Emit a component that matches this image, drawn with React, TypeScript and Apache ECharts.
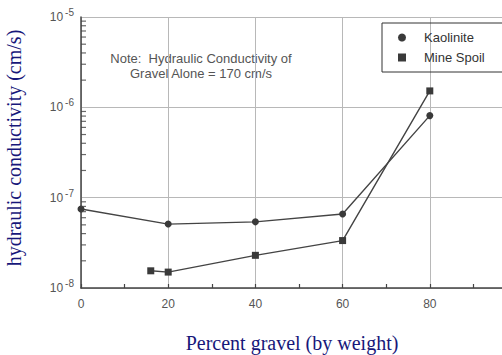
import React, { useEffect, useRef } from "react";
import * as echarts from "echarts";

// Percent gravel (by weight) for each specimen
const kaolinitePct = [0, 20, 40, 60, 80];
const mineSpoilPct = [16, 20, 40, 60, 80];

// Hydraulic conductivity, cm/s
const kaoliniteK = [7.5e-8, 5.1e-8, 5.4e-8, 6.6e-8, 8.1e-7];
const mineSpoilK = [1.55e-8, 1.5e-8, 2.3e-8, 3.35e-8, 1.52e-6];

// Axis settings
const xTickStep = 20;
const yMin = 1e-8;
const yMax = 1e-5;
const minorDecades = [-8, -7, -6];
const minorMultipliers = [2, 3, 4, 5, 6, 7, 8, 9];

const seriesNames = ["Kaolinite", "Mine Spoil"];
const noteLines = ["Note:  Hydraulic Conductivity of", "Gravel Alone = 170 cm/s"];
const xTitle = "Percent gravel (by weight)";
const yTitle = "hydraulic conductivity (cm/s)";

const ink = "#444444";
const grid = "#b8b8b8";
const navy = "#17177a";
const sans = "'Liberation Sans', Arial, sans-serif";
const serif = "'Liberation Serif', 'Times New Roman', serif";

export default function App() {
  const ref = useRef<HTMLDivElement>(null);

  useEffect(() => {
    if (!ref.current) return;
    const chart = echarts.init(ref.current, undefined, { renderer: "svg" });

    // 2..9 x 10^n positions for the small ticks along the left axis
    const minorTickPoints: number[][] = [];
    minorDecades.forEach((e) =>
      minorMultipliers.forEach((m) => minorTickPoints.push([0, m * Math.pow(10, e)]))
    );

    chart.setOption({
      animation: false,
      backgroundColor: "#ffffff",
      grid: { left: 81, top: 17, width: 436, height: 271, outerBoundsMode: "none", containLabel: false },
      xAxis: {
        type: "value",
        min: 0,
        max: 100,
        interval: xTickStep,
        axisLine: { show: true, lineStyle: { color: ink, width: 1.5 } },
        axisTick: { show: true, inside: true, length: 4, lineStyle: { color: ink, width: 1.2 } },
        minorTick: { show: true, splitNumber: 2, length: 4, lineStyle: { color: ink, width: 1.2 } },
        splitLine: { show: true, lineStyle: { color: grid, width: 1 } },
        axisLabel: {
          color: "#555",
          fontFamily: sans,
          fontSize: 12,
          margin: 10,
          showMaxLabel: false,
        },
      },
      yAxis: {
        type: "log",
        logBase: 10,
        min: yMin,
        max: yMax,
        axisLine: { show: true, lineStyle: { color: ink, width: 1.5 } },
        axisTick: { show: false },
        splitLine: { show: true, lineStyle: { color: grid, width: 1 } },
        axisLabel: {
          margin: 7,
          formatter: (v: number) => {
            const e = Math.round(Math.log10(v));
            return `{b|10}{s|${e}}`;
          },
          rich: {
            b: { fontSize: 12, color: "#555", fontFamily: sans },
            s: { fontSize: 10, color: "#555", fontFamily: sans, padding: [0, 0, 9, 2] },
          },
        },
      },
      legend: {
        left: 382,
        top: 23,
        orient: "vertical",
        width: 116,
        borderColor: "#333",
        borderWidth: 1,
        padding: [8, 19, 8, 16],
        itemGap: 7,
        itemWidth: 8,
        itemHeight: 8,
        textStyle: {
          color: "#333",
          fontFamily: sans,
          fontSize: 13,
          padding: [0, 0, 0, 13],
        },
        data: [
          { name: seriesNames[0], icon: "circle" },
          { name: seriesNames[1], icon: "rect" },
        ],
      },
      graphic: [
        {
          type: "text",
          x: 14,
          y: 148,
          rotation: Math.PI / 2,
          style: {
            text: yTitle,
            font: `20px ${serif}`,
            fill: navy,
            align: "center",
            verticalAlign: "middle",
          },
        },
        {
          type: "text",
          x: 292,
          y: 343,
          style: {
            text: xTitle,
            font: `20px ${serif}`,
            fill: navy,
            align: "center",
            verticalAlign: "middle",
          },
        },
        {
          type: "text",
          x: 201,
          y: 58,
          style: {
            text: noteLines[0],
            font: `13px ${sans}`,
            fill: "#555",
            align: "center",
            verticalAlign: "middle",
          },
        },
        {
          type: "text",
          x: 201,
          y: 73,
          style: {
            text: noteLines[1],
            font: `13px ${sans}`,
            fill: "#555",
            align: "center",
            verticalAlign: "middle",
          },
        },
      ],
      series: [
        {
          name: seriesNames[0],
          type: "line",
          data: kaolinitePct.map((x, i) => [x, kaoliniteK[i]]),
          symbol: "circle",
          symbolSize: 7,
          lineStyle: { color: ink, width: 1.4 },
          itemStyle: { color: "#3a3a3a" },
          z: 3,
        },
        {
          name: seriesNames[1],
          type: "line",
          data: mineSpoilPct.map((x, i) => [x, mineSpoilK[i]]),
          symbol: "rect",
          symbolSize: 7,
          lineStyle: { color: ink, width: 1.4 },
          itemStyle: { color: "#3a3a3a" },
          z: 3,
        },
        {
          // short inward ticks on the left axis at 2..9 x 10^n
          name: "minor ticks",
          type: "scatter",
          silent: true,
          clip: false,
          data: minorTickPoints,
          symbol: "rect",
          symbolSize: [5, 1.2],
          symbolOffset: [2.5, 0],
          itemStyle: { color: ink },
          z: 4,
        },
      ],
    });

    return () => chart.dispose();
  }, []);

  return (
    <div
      ref={ref}
      style={{ position: "absolute", left: 0, top: 0, width: 502, height: 355 }}
    />
  );
}
